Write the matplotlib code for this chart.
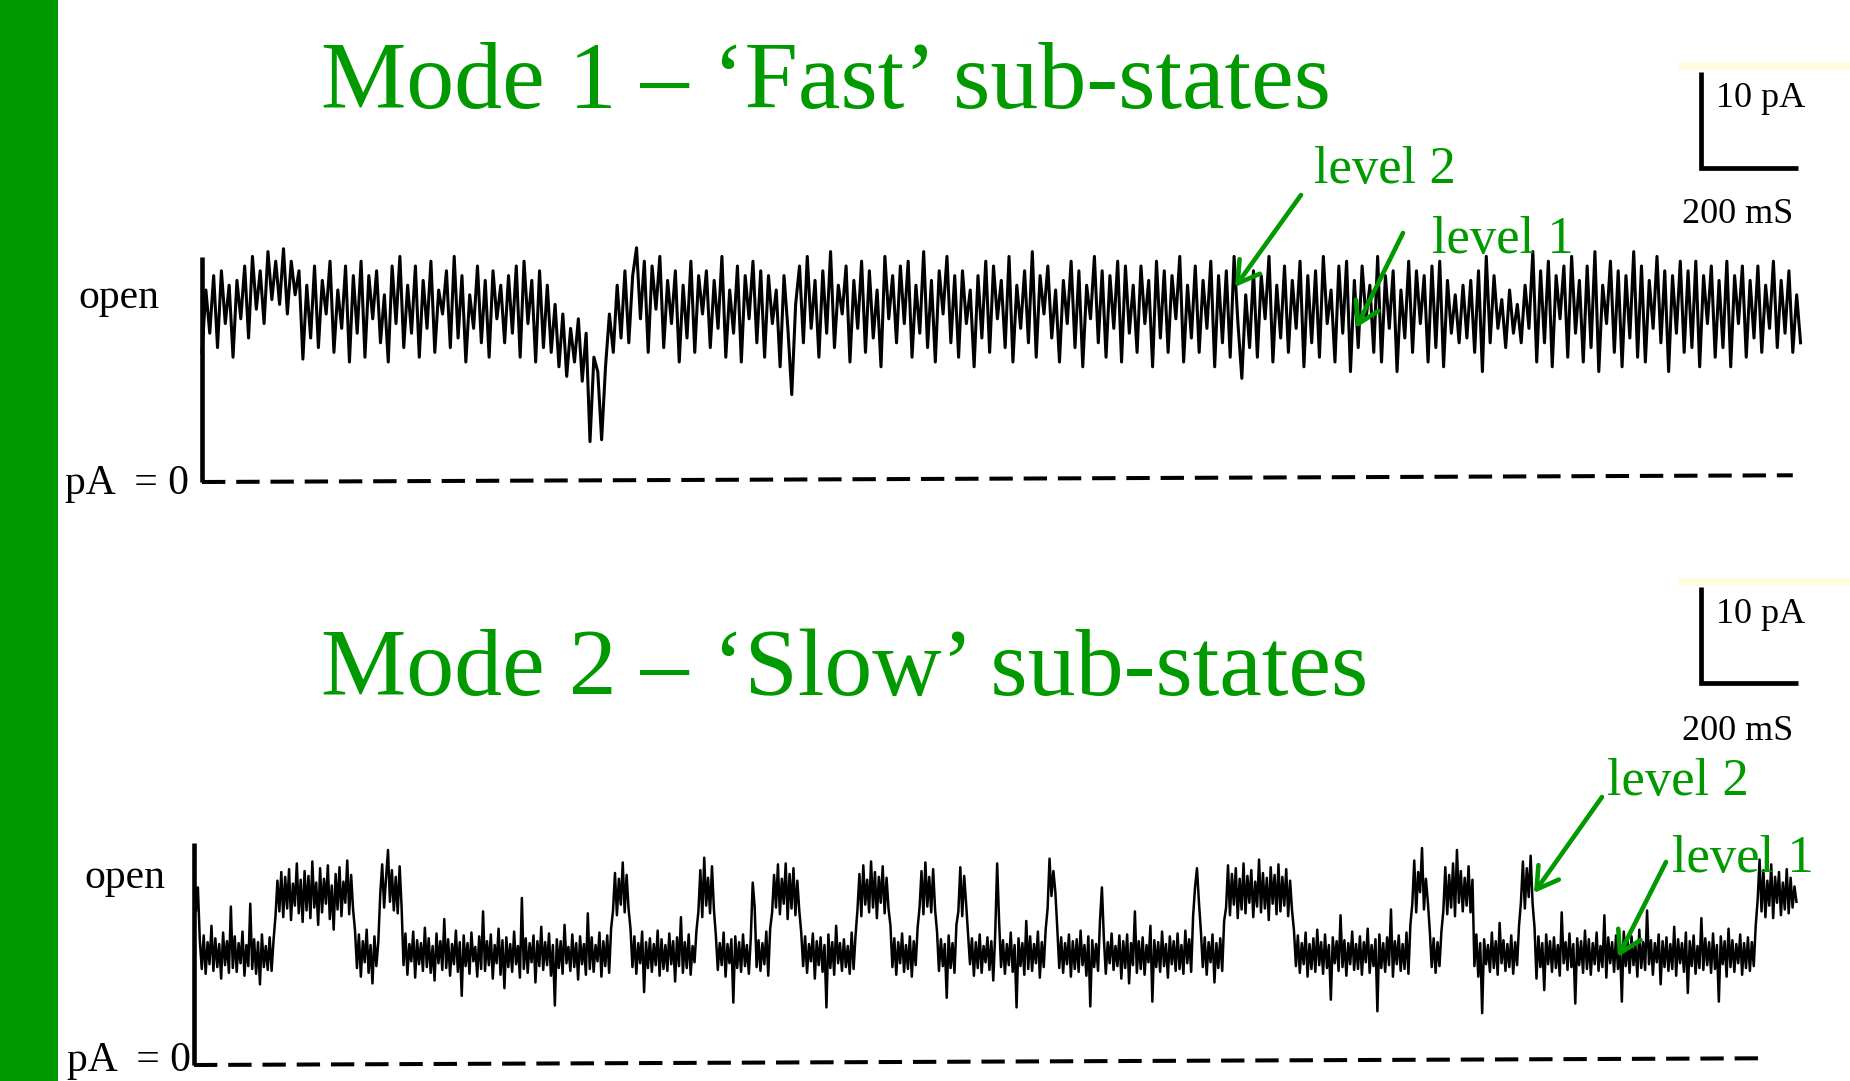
import matplotlib.pyplot as plt
import matplotlib.patches as mpatches
import numpy as np

plt.rcParams['font.family'] = ['Liberation Serif', 'DejaVu Serif']

# ── DATA ──────────────────────────────────────────────────────────────────
dt_ms = [8, 4]  # sample spacing of the two traces (ms)

# Mode 1 - fast flickering between sub-levels (pA)
mode1_pA = [
    13.5, 20.0, 15.5, 21.5, 14.0, 22.0, 16.5, 20.5, 13.0, 21.0,
    17.0, 22.5, 15.0, 23.5, 18.0, 22.0, 16.5, 24.0, 19.0, 23.0,
    18.5, 24.3, 17.5, 23.0, 19.5, 22.0, 12.8, 20.5, 15.0, 22.5,
    14.0, 21.0, 17.5, 23.0, 13.5, 20.0, 16.0, 22.5, 12.5, 21.5,
    15.5, 23.0, 13.0, 21.5, 17.0, 22.0, 14.5, 19.5, 12.5, 22.5,
    16.5, 23.5, 14.0, 20.5, 15.5, 22.5, 13.0, 21.0, 16.0, 23.0,
    13.5, 20.0, 17.5, 22.0, 14.0, 23.5, 15.0, 21.5, 12.5, 19.5,
    16.0, 22.5, 14.5, 21.0, 13.0, 22.0, 17.0, 20.5, 14.5, 21.5,
    15.5, 22.5, 13.0, 23.0, 16.5, 21.0, 12.5, 22.0, 14.0, 20.5,
    13.5, 18.5, 12.0, 17.5, 11.0, 16.0, 12.5, 17.0, 10.5, 15.5,
    4.2, 13.0, 11.5, 4.4, 12.0, 17.5, 13.5, 20.5, 15.0, 22.0,
    14.5, 21.5, 24.4, 17.0, 23.0, 13.5, 22.5, 18.0, 23.5, 14.0,
    21.0, 16.5, 22.0, 12.5, 20.5, 15.0, 23.0, 13.5, 21.5, 17.5,
    22.0, 14.0, 21.0, 16.0, 23.5, 13.0, 20.0, 15.5, 22.5, 12.5,
    21.5, 17.0, 23.0, 14.5, 22.0, 13.0, 21.5, 16.5, 20.0, 12.0,
    21.5, 16.0, 9.1, 18.5, 22.5, 14.5, 23.5, 16.0, 21.0, 13.0,
    22.0, 15.5, 24.0, 14.0, 20.5, 17.5, 22.5, 12.5, 21.0, 16.0,
    23.0, 13.5, 22.0, 15.0, 20.0, 12.0, 23.5, 17.0, 21.5, 14.5,
    22.5, 16.5, 23.0, 13.0, 20.5, 15.5, 24.0, 14.0, 21.0, 12.5,
    22.0, 17.5, 23.5, 14.5, 21.5, 13.0, 22.0, 16.5, 20.0, 12.0,
    21.5, 15.0, 23.0, 13.5, 22.5, 17.0, 21.0, 14.0, 23.5, 12.5,
    20.5, 16.0, 22.0, 14.5, 24.0, 13.0, 21.5, 17.5, 22.5, 15.0,
    20.0, 12.5, 21.0, 16.5, 23.0, 14.0, 22.0, 12.0, 20.5, 17.0,
    23.5, 14.5, 22.0, 13.0, 21.5, 16.0, 23.0, 12.5, 22.5, 15.5,
    20.5, 13.5, 22.5, 16.5, 21.0, 12.0, 23.0, 15.0, 22.0, 13.5,
    21.5, 17.0, 23.5, 12.5, 20.5, 15.0, 22.5, 13.5, 21.0, 16.0,
    23.0, 12.0, 21.5, 14.5, 22.0, 13.0, 23.5, 16.5, 10.8, 19.5,
    14.0, 22.0, 13.0, 21.5, 17.0, 23.5, 12.5, 20.5, 15.0, 22.5,
    13.5, 21.0, 16.0, 23.0, 12.0, 21.5, 14.5, 22.0, 13.0, 23.5,
    16.5, 20.0, 12.5, 22.5, 15.5, 23.0, 11.5, 21.0, 14.0, 22.5,
    17.0, 20.5, 13.5, 23.5, 12.5, 21.5, 16.0, 22.0, 11.5, 20.0,
    15.0, 23.0, 13.5, 22.0, 16.5, 21.5, 12.5, 22.5, 14.0, 23.0,
    12.0, 21.0, 15.5, 19.5, 14.5, 20.5, 15.0, 21.0, 13.5, 22.0,
    11.5, 23.5, 14.5, 21.5, 16.0, 19.0, 14.0, 20.0, 15.5, 18.5,
    14.5, 20.5, 16.0, 24.0, 12.5, 22.0, 14.5, 23.0, 12.0, 21.5,
    17.0, 22.5, 13.0, 23.5, 15.5, 21.0, 12.5, 22.5, 14.0, 24.0,
    11.5, 20.5, 16.5, 23.0, 13.5, 22.0, 12.0, 21.5, 15.0, 24.0,
    13.0, 22.5, 12.5, 21.0, 16.0, 23.5, 14.5, 22.0, 11.5, 21.5,
    15.5, 23.0, 13.5, 22.0, 14.0, 23.0, 12.0, 21.5, 16.5, 22.5,
    13.0, 21.0, 14.0, 23.0, 12.0, 21.5, 16.5, 22.5, 13.0, 21.0,
    15.0, 22.5, 13.5, 20.5, 16.0, 23.0, 14.0, 21.0, 15.5, 22.0,
    13.5, 19.5, 14.5,
]

# Mode 2 - slow dwells at level 1 (~11.6 pA) and level 2 (~17.5 pA), 4 ms samples
mode2_pA = [
    21.0, 16.0, 18.5, 13.0, 10.0, 13.5, 9.5, 12.8, 10.5, 14.5, 9.8, 13.2, 10.2, 12.6, 9.0, 13.8, 10.4, 12.9, 9.6, 16.5,
    10.1, 13.4, 9.7, 12.7, 10.6, 13.9, 9.3, 12.5, 10.3, 16.8, 10.0, 13.1, 9.5, 12.8, 8.4, 13.6, 10.2, 12.4, 9.9, 13.3,
    9.8, 13.0, 15.5, 19.2, 16.0, 20.1, 15.4, 19.6, 16.3, 20.4, 15.1, 18.9, 16.6, 21.0, 15.8, 19.3, 14.9, 20.2, 16.1, 19.7,
    15.3, 21.2, 16.4, 19.0, 14.6, 20.5, 15.9, 19.4, 16.8, 20.8, 15.2, 18.7, 14.1, 19.9, 16.2, 20.6, 15.5, 19.1, 16.9, 21.3,
    15.7, 19.8, 16.2, 14.0, 10.1, 13.6, 9.2, 12.9, 10.7, 14.1, 9.6, 12.5, 8.5, 13.4, 10.3, 12.8, 17.8, 20.9, 16.4, 19.5,
    22.4, 17.0, 20.3, 16.1, 19.6, 15.8, 20.7, 16.5, 10.4, 13.7, 9.4, 12.6, 10.8, 13.9, 9.1, 13.0, 10.5, 12.7, 9.8, 14.3,
    10.2, 13.2, 9.6, 12.4, 8.8, 13.7, 10.6, 12.9, 9.9, 15.2, 10.1, 13.1, 9.3, 12.6, 10.5, 14.0, 9.7, 12.8, 7.2, 13.5,
    10.3, 12.7, 9.5, 13.8, 10.8, 12.3, 9.2, 13.4, 10.0, 16.0, 9.8, 12.9, 10.4, 13.6, 9.0, 12.5, 10.6, 14.2, 9.4, 13.0,
    8.0, 13.3, 10.2, 12.6, 9.7, 13.9, 10.5, 12.4, 9.1, 17.4, 10.0, 13.2, 9.6, 12.7, 10.7, 13.5, 8.6, 12.9, 10.3, 14.4,
    9.9, 12.8, 10.4, 13.7, 9.3, 12.5, 6.2, 13.1, 10.1, 12.9, 9.5, 14.6, 10.6, 12.3, 9.8, 13.6, 10.2, 12.7, 8.9, 13.4,
    10.5, 12.6, 9.4, 15.8, 10.0, 13.3, 9.7, 12.5, 10.8, 13.8, 9.2, 12.9, 10.3, 13.5, 9.6, 14.2, 16.1, 20.0, 15.6, 19.4,
    16.7, 21.1, 15.9, 19.8, 16.3, 14.2, 10.2, 13.4, 9.5, 12.7, 10.6, 13.9, 7.6, 12.8, 10.1, 13.2, 9.7, 12.6, 10.4, 14.0,
    9.3, 13.1, 10.0, 12.5, 9.8, 13.7, 10.5, 12.9, 8.7, 13.3, 10.3, 15.4, 9.6, 12.8, 10.1, 13.6, 9.4, 12.4, 10.7, 14.0,
    16.0, 20.3, 15.4, 21.6, 16.6, 19.5, 15.8, 20.7, 16.2, 13.5, 9.9, 12.7, 10.4, 13.8, 9.2, 12.6, 10.6, 13.1, 6.5, 13.4,
    10.1, 12.8, 9.7, 13.6, 10.3, 12.5, 9.5, 13.2, 19.0, 16.5, 10.2, 13.0, 9.8, 12.7, 10.5, 13.9, 9.3, 14.2, 15.9, 19.8,
    16.4, 20.9, 15.7, 19.4, 16.8, 21.0, 15.2, 19.9, 16.3, 20.5, 15.6, 19.2, 16.1, 13.8, 10.3, 13.4, 9.6, 12.6, 10.8, 13.7,
    9.0, 12.9, 10.4, 13.3, 9.7, 12.5, 6.0, 13.6, 10.1, 12.8, 9.4, 14.5, 10.6, 12.7, 9.8, 13.1, 10.2, 12.4, 9.5, 13.8,
    10.0, 13.5, 16.2, 19.9, 15.5, 20.8, 16.7, 19.3, 15.9, 21.2, 16.4, 20.1, 15.3, 19.6, 16.9, 20.7, 15.8, 19.5, 16.3, 14.5,
    10.2, 13.2, 9.4, 12.8, 10.6, 13.7, 9.7, 12.5, 10.0, 13.4, 9.2, 12.9, 10.4, 14.3, 16.4, 20.2, 15.7, 21.1, 16.5, 19.6,
    15.9, 20.4, 16.2, 13.9, 9.8, 13.1, 10.3, 12.6, 7.0, 13.5, 10.1, 12.7, 9.6, 14.6, 16.0, 20.6, 15.5, 19.7, 16.8, 13.6,
    10.5, 13.2, 9.3, 12.8, 10.1, 13.6, 9.6, 12.4, 10.7, 13.3, 9.9, 12.9, 8.8, 13.7, 21.0, 15.0, 10.2, 13.0, 9.5, 12.6,
    10.4, 13.8, 9.7, 12.5, 6.0, 13.2, 10.3, 12.7, 9.4, 15.0, 10.0, 13.4, 9.8, 12.6, 10.6, 13.9, 9.1, 12.8, 10.2, 14.1,
    16.3, 21.5, 17.6, 20.2, 18.0, 14.2, 10.1, 13.3, 9.6, 12.7, 10.5, 13.6, 9.2, 12.9, 10.0, 13.1, 9.7, 14.0, 10.4, 12.5,
    9.3, 13.4, 6.1, 13.0, 10.2, 12.6, 9.8, 15.0, 18.5, 13.2, 9.5, 12.8, 10.6, 13.7, 9.9, 12.4, 10.3, 13.5, 9.0, 12.9,
    10.1, 13.6, 8.5, 12.7, 10.4, 16.0, 9.6, 12.9, 10.0, 13.3, 9.4, 12.5, 10.7, 14.5, 6.6, 13.0, 10.2, 12.8, 9.7, 13.9,
    10.3, 12.6, 9.1, 13.4, 10.5, 12.9, 9.8, 13.7, 10.0, 12.5, 9.5, 14.0, 10.6, 13.1, 9.7, 15.5, 18.5, 20.5, 17.0, 14.0,
    10.2, 13.3, 9.4, 12.8, 10.7, 13.6, 8.6, 12.7, 10.1, 13.2, 9.8, 15.0, 16.4, 20.8, 15.6, 19.9, 16.7, 20.5, 15.3, 19.4,
    16.2, 21.0, 15.8, 19.7, 16.9, 20.3, 15.4, 19.1, 16.5, 21.4, 15.9, 20.0, 16.3, 19.5, 15.1, 20.6, 16.8, 19.8, 15.7, 20.9,
    16.0, 19.6, 16.6, 20.4, 15.5, 19.2, 16.1, 14.0, 10.3, 13.5, 9.6, 12.7, 10.5, 13.8, 9.2, 12.6, 10.0, 13.2, 9.7, 14.1,
    10.4, 12.8, 9.5, 13.6, 10.1, 12.5, 6.8, 13.3, 10.6, 12.9, 9.8, 15.6, 10.2, 13.0, 9.3, 12.7, 10.5, 13.9, 9.9, 12.6,
    10.0, 13.4, 9.4, 12.8, 10.7, 14.2, 9.6, 12.5, 10.3, 13.1, 5.6, 13.6, 10.1, 12.7, 9.7, 13.3, 10.4, 16.2, 9.2, 12.9,
    10.5, 13.5, 9.8, 12.6, 10.0, 13.8, 9.5, 14.6, 16.8, 21.3, 15.9, 20.1, 18.0, 22.6, 16.2, 19.4, 17.0, 14.0, 10.2, 13.2,
    9.6, 12.8, 10.3, 13.9, 16.1, 20.6, 15.7, 19.8, 16.4, 21.0, 15.5, 22.4, 16.9, 20.2, 16.0, 19.5, 16.6, 20.7, 15.9, 19.3,
    10.3, 13.6, 9.2, 12.7, 5.4, 13.1, 10.5, 12.5, 9.7, 13.8, 10.1, 12.9, 9.4, 14.8, 10.6, 13.0, 9.8, 12.6, 10.2, 13.5,
    9.5, 12.8, 10.4, 14.5, 17.0, 21.2, 16.3, 20.5, 17.5, 21.8, 16.8, 14.3, 9.0, 13.4, 10.2, 12.7, 7.8, 13.6, 10.5, 12.9,
    9.7, 13.3, 10.1, 12.5, 9.3, 15.9, 10.6, 12.8, 9.9, 13.7, 10.2, 12.6, 6.4, 13.2, 10.4, 12.9, 9.6, 14.0, 10.0, 13.1,
    9.4, 12.7, 10.5, 13.8, 9.8, 12.4, 10.2, 15.6, 9.1, 13.3, 10.6, 12.8, 9.7, 13.5, 10.0, 12.6, 6.6, 13.9, 10.3, 12.9,
    9.6, 13.4, 10.4, 12.5, 9.2, 14.1, 10.1, 12.8, 9.9, 16.1, 10.5, 13.0, 9.4, 12.7, 10.7, 13.6, 8.4, 12.9, 10.2, 13.3,
    9.8, 12.6, 10.0, 14.4, 9.3, 13.1, 10.6, 12.7, 9.7, 13.8, 7.5, 12.9, 10.3, 13.5, 9.5, 12.4, 10.1, 15.3, 9.9, 13.2,
    10.4, 12.8, 9.6, 13.7, 10.0, 12.5, 6.6, 13.4, 10.5, 12.9, 9.2, 14.2, 10.2, 13.0, 9.7, 12.6, 10.6, 13.6, 9.4, 12.7,
    10.1, 13.3, 9.8, 12.8, 10.3, 14.5, 17.2, 21.4, 16.0, 20.3, 15.4, 19.2, 16.6, 20.9, 15.3, 19.6, 16.9, 20.1, 15.6, 19.0,
    16.2, 20.4, 15.8, 19.5, 16.4, 18.6, 17.0,
]

traces = [mode1_pA, mode2_pA]
titles = ['Mode 1 \u2013 \u2018Fast\u2019 sub-states', 'Mode 2 \u2013 \u2018Slow\u2019 sub-states']
step_top_pA = [23.4, 23.1]       # opening step at t=0
zero_end_ms = [3280, 3240]       # end of the dashed 0 pA line
zero_drift_pA = [0.7, 0.7]       # slight tilt of the baseline
scale_pA, scale_ms = 10, 200
scale_corner = [(3091, 32.7), (3107, 39.8)]  # (ms, pA)

# ── LAYOUT ────────────────────────────────────────────────────────────────
W, H = 1850, 1081
GREEN = '#009900'
origin_px = [(202, 482), (194, 1065)]   # where t=0, I=0 sits (px from top-left)
px_per_ms = 0.485
px_per_pA = 9.6
trace_lw = [2.2, 1.8]

fig = plt.figure(figsize=(W / 100, H / 100), dpi=100, facecolor='white')


def put(x, y, s, size, color='black'):
    fig.text(x / W, 1 - y / H, s, fontsize=size, color=color,
             ha='left', va='baseline')


def arrow(ax, tail, head):
    ax.annotate('', xy=(head[0], H - head[1]), xytext=(tail[0], H - tail[1]),
                xycoords='figure pixels', textcoords='figure pixels',
                arrowprops=dict(arrowstyle='->,head_length=0.75,head_width=0.45',
                                color=GREEN, lw=3.3, mutation_scale=20,
                                shrinkA=0, shrinkB=0))


# left green bar and the faint cream lines at top right
fig.add_artist(mpatches.Rectangle((0, 0), 58 / W, 1, transform=fig.transFigure,
                                  color=GREEN, lw=0))
for ytop in (62, 578):
    fig.add_artist(mpatches.Rectangle((1678 / W, 1 - (ytop + 8) / H), (W - 1678) / W, 8 / H,
                                      transform=fig.transFigure, color='#FDFBE0', lw=0))

axes = []
for i, vals in enumerate(traces):
    x0, y0 = origin_px[i]
    ax = fig.add_axes([0, 0, 1, 1])
    ax.set_xlim(-x0 / px_per_ms, (W - x0) / px_per_ms)
    ax.set_ylim(-(H - y0) / px_per_pA, y0 / px_per_pA)
    ax.axis('off')
    ax.patch.set_alpha(0)

    t = np.arange(len(vals)) * dt_ms[i]
    ax.plot(t, vals, color='black', lw=trace_lw[i], solid_joinstyle='round')

    # opening step and 0 pA reference
    ax.plot([0, 0], [0, step_top_pA[i]], color='black', lw=3.3, solid_capstyle='butt')
    ax.plot([0, zero_end_ms[i]], [0, zero_drift_pA[i]], color='black', lw=2.9,
            linestyle=(0, (5.8, 2.7)))

    # scale bar
    cx, cy = scale_corner[i]
    ax.plot([cx, cx, cx + scale_ms], [cy + scale_pA, cy, cy], color='black',
            lw=3.4, solid_joinstyle='miter', solid_capstyle='butt')
    axes.append(ax)

# ── TEXT ──────────────────────────────────────────────────────────────────
put(321, 108, titles[0], 69, GREEN)
put(321, 695, titles[1], 69, GREEN)

put(78, 308, 'open', 30)
put(65, 494, 'pA  = 0', 30)
put(84, 888, 'open', 30)
put(67, 1071, 'pA  = 0', 30)

put(1716, 107, f'{scale_pA} pA', 26)
put(1682, 223, f'{scale_ms} mS', 26)
put(1716, 623, f'{scale_pA} pA', 26)
put(1682, 740, f'{scale_ms} mS', 26)

put(1314, 183, 'level 2', 38, GREEN)
put(1432, 253, 'level 1', 38, GREEN)
put(1607, 795, 'level 2', 38, GREEN)
put(1672, 872, 'level 1', 38, GREEN)

arrow(axes[0], (1301, 195), (1235, 287))
arrow(axes[0], (1403, 233), (1356, 328))
arrow(axes[1], (1602, 797), (1534, 893))
arrow(axes[1], (1666, 862), (1618, 957))

fig.savefig('out.png', dpi=100, facecolor='white')
